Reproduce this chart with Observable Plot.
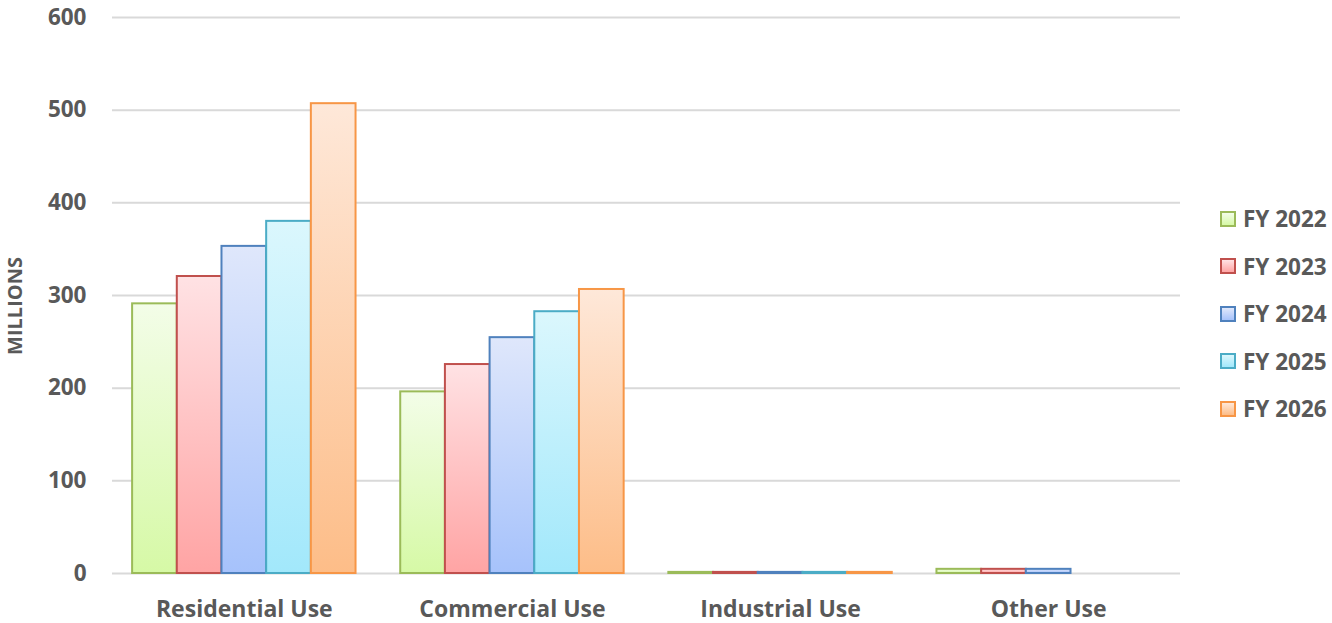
<!DOCTYPE html>
<html>
<head>
<meta charset="utf-8">
<script src="https://cdn.jsdelivr.net/npm/d3@7"></script>
<script src="https://cdn.jsdelivr.net/npm/@observablehq/plot@0.6"></script>
<style>
  html, body { margin: 0; padding: 0; background: #fff; }
  #wrap { position: relative; width: 1332px; height: 623px; font-family: "Open Sans", sans-serif; }
  #legend { position: absolute; left: 1220px; top: 195px; }
  .item { display: flex; align-items: center; height: 47.5px; font-size: 22.5px; font-weight: bold; color: #595959; white-space: nowrap; }
  .sw { width: 12px; height: 12px; border: 2px solid; margin-right: 7px; box-sizing: content-box; }
  #ylabel { position: absolute; left: 15px; top: 306px; transform: translate(-50%, -50%) rotate(-90deg);
    font-size: 20px; font-weight: bold; color: #595959; white-space: nowrap; line-height: 1; }
</style>
</head>
<body>
<div id="wrap"><div id="chart"></div><div id="legend"></div><div id="ylabel"></div></div>
<script>
// ---- data ----
const categories = ["Residential Use", "Commercial Use", "Industrial Use", "Other Use"];
const years = ["FY 2022", "FY 2023", "FY 2024", "FY 2025", "FY 2026"];
const fy2022 = [291, 196, 1.2, 4.5];
const fy2023 = [320.5, 225.5, 1.2, 4.5];
const fy2024 = [353, 254.5, 1.2, 4.5];
const fy2025 = [380, 282.5, 1.2, 0];
const fy2026 = [507, 306.5, 1.2, 0];
const yTicks = [0, 100, 200, 300, 400, 500, 600];
const yLabel = "MILLIONS";

// ---- styles ----
const strokes = ["#9bbb59", "#c0504d", "#4f81bd", "#4bacc6", "#f79646"];
const gradTop = ["#f3fde8", "#ffe2e4", "#dfe7fb", "#dbf7fd", "#fee8d9"];
const gradBottom = ["#d6f9a6", "#ffa4a4", "#a6c2fb", "#a2e8fb", "#fdbd88"];

const series = [fy2022, fy2023, fy2024, fy2025, fy2026];
const data = [];
categories.forEach((c, ci) => years.forEach((y, yi) => data.push({cat: c, year: y, key: c + "|" + y, value: series[yi][ci]})));

// x band domain with spacer slots between category groups
const xDomain = [];
categories.forEach((c, ci) => {
  if (ci > 0) xDomain.push("gap" + ci);
  years.forEach(y => xDomain.push(c + "|" + y));
});
const xTicks = categories.map(c => c + "|" + years[2]);

const ns = "http://www.w3.org/2000/svg";
function defsMark() {
  const defs = document.createElementNS(ns, "defs");
  years.forEach((y, i) => {
    const g = document.createElementNS(ns, "linearGradient");
    g.setAttribute("id", "grad" + i);
    g.setAttribute("x1", "0"); g.setAttribute("y1", "0");
    g.setAttribute("x2", "0"); g.setAttribute("y2", "1");
    const s1 = document.createElementNS(ns, "stop");
    s1.setAttribute("offset", "0"); s1.setAttribute("stop-color", gradTop[i]);
    const s2 = document.createElementNS(ns, "stop");
    s2.setAttribute("offset", "1"); s2.setAttribute("stop-color", gradBottom[i]);
    g.appendChild(s1); g.appendChild(s2);
    defs.appendChild(g);
  });
  return defs;
}

const barMarks = years.map((y, i) =>
  Plot.barY(data.filter(d => d.year === y && d.value > 0), {
    x: "key", y: "value",
    fill: `url(#grad${i})`, stroke: strokes[i], strokeWidth: 2
  })
);

const chart = Plot.plot({
  width: 1332,
  height: 623,
  marginLeft: 112,
  marginRight: 152,
  marginTop: 17,
  marginBottom: 50,
  style: {fontFamily: "'Open Sans', sans-serif", color: "#595959", background: "#fff"},
  x: {domain: xDomain, paddingInner: 0, paddingOuter: 0.45, round: false, axis: null},
  y: {domain: [0, 600], axis: null},
  marks: [
    defsMark,
    Plot.ruleY(yTicks, {stroke: "#d9d9d9", strokeWidth: 2}),
    ...barMarks,
    Plot.axisY({ticks: yTicks, tickSize: 0, tickPadding: 26, fontSize: 22.5, fontWeight: "bold",
      label: null}),
    Plot.axisX({ticks: xTicks, tickSize: 0, tickPadding: 27, fontSize: 23, fontWeight: "bold",
      tickFormat: d => d.split("|")[0], label: null})
  ]
});
document.getElementById("chart").appendChild(chart);
document.getElementById("ylabel").textContent = yLabel;

const legend = document.getElementById("legend");
years.forEach((y, i) => {
  const item = document.createElement("div");
  item.className = "item";
  const sw = document.createElement("div");
  sw.className = "sw";
  sw.style.borderColor = strokes[i];
  sw.style.background = `linear-gradient(${gradTop[i]}, ${gradBottom[i]})`;
  const t = document.createElement("span");
  t.textContent = y;
  item.appendChild(sw); item.appendChild(t);
  legend.appendChild(item);
});
</script>
</body>
</html>
